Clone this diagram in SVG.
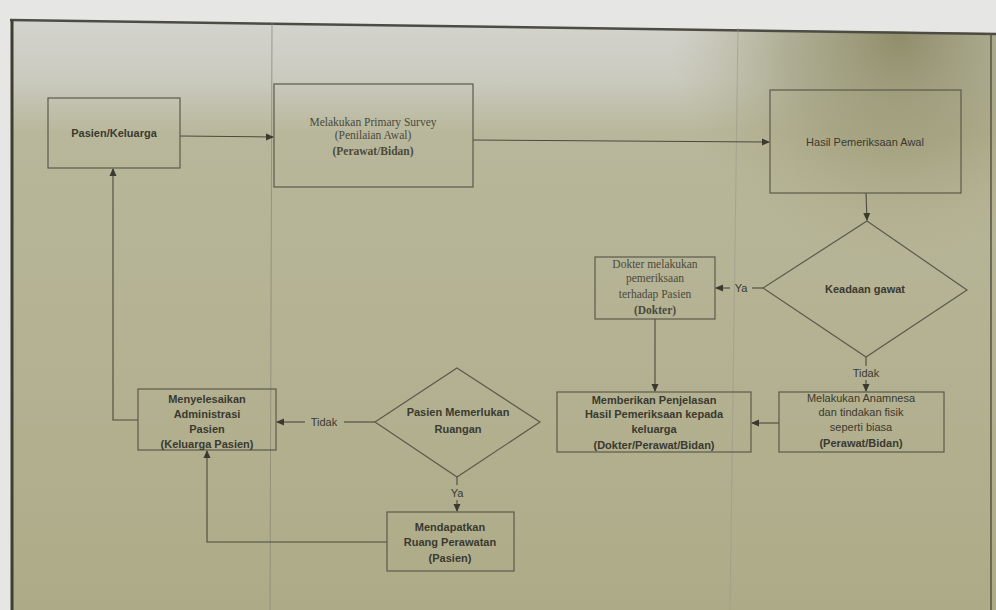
<svg xmlns="http://www.w3.org/2000/svg" width="996" height="610" viewBox="0 0 996 610">
<defs>
<linearGradient id="bg" x1="0" y1="0" x2="0" y2="1">
<stop offset="0" stop-color="#d4d4cf"/>
<stop offset="0.1" stop-color="#cacabf"/>
<stop offset="0.19" stop-color="#b9b79b"/>
<stop offset="1" stop-color="#adab87"/>
</linearGradient>
<radialGradient id="shadow" cx="900" cy="35" r="230" gradientUnits="userSpaceOnUse">
<stop offset="0" stop-color="#8c8a64" stop-opacity="0.95"/>
<stop offset="0.5" stop-color="#9a9872" stop-opacity="0.6"/>
<stop offset="1" stop-color="#aeac88" stop-opacity="0"/>
</radialGradient>
<marker id="arr" markerWidth="8" markerHeight="8" refX="7" refY="4" orient="auto" markerUnits="userSpaceOnUse">
<path d="M0,0.5 L8,4 L0,7.5 z" fill="#3a3a30"/>
</marker>
<style>
.box{fill:none;stroke:#5a5a4c;stroke-width:1.2}
.ln{fill:none;stroke:#4a4a3e;stroke-width:1.1}
.t{font-family:"Liberation Sans",Arial,sans-serif;font-size:11px;fill:#3a3a30;text-anchor:middle}
.b{font-weight:bold}
.s{font-family:"Liberation Serif","Times New Roman",serif;font-size:11.5px;fill:#4a4a3c;text-anchor:middle}
</style>
</defs>
<rect x="0" y="0" width="996" height="610" fill="#e6e6e4"/>
<polygon points="11,20 996,33 996,610 11,610" fill="url(#bg)"/>
<polygon points="11,20 996,33 996,610 11,610" fill="url(#shadow)"/>
<line x1="10" y1="20" x2="996" y2="34" stroke="#4c4c44" stroke-width="2.5"/>
<line x1="12" y1="20" x2="12" y2="610" stroke="#3e3e30" stroke-width="3"/>
<line x1="991" y1="33" x2="991" y2="610" stroke="#55553f" stroke-width="1.5"/>
<line x1="272" y1="22" x2="270" y2="610" stroke="#8a8a78" stroke-width="0.8"/>
<line x1="738" y1="28" x2="730" y2="610" stroke="#98988a" stroke-width="0.6"/>

<g id="connectors">
<line class="ln" x1="180" y1="136" x2="273" y2="137" marker-end="url(#arr)"/>
<line class="ln" x1="473" y1="140" x2="769" y2="142" marker-end="url(#arr)"/>
<line class="ln" x1="866" y1="193" x2="867" y2="220" marker-end="url(#arr)"/>
<line class="ln" x1="763" y1="288" x2="752" y2="288"/>
<line class="ln" x1="730" y1="288" x2="716" y2="288" marker-end="url(#arr)"/>
<text class="t" x="741" y="292">Ya</text>
<line class="ln" x1="655" y1="319" x2="655" y2="391" marker-end="url(#arr)"/>
<line class="ln" x1="866" y1="357" x2="866" y2="366"/>
<text class="t" x="866" y="377">Tidak</text>
<line class="ln" x1="866" y1="380" x2="866" y2="391" marker-end="url(#arr)"/>
<line class="ln" x1="779" y1="423" x2="752" y2="423" marker-end="url(#arr)"/>
<line class="ln" x1="375" y1="422" x2="344" y2="422"/>
<text class="t" x="324" y="426">Tidak</text>
<line class="ln" x1="305" y1="422" x2="277" y2="422" marker-end="url(#arr)"/>
<line class="ln" x1="457" y1="477" x2="457" y2="485"/>
<text class="t" x="457" y="497">Ya</text>
<line class="ln" x1="457" y1="500" x2="457" y2="511" marker-end="url(#arr)"/>
<polyline class="ln" points="138,420 113,420 113,169" marker-end="url(#arr)"/>
<polyline class="ln" points="387,542 207,542 207,451" marker-end="url(#arr)"/>
</g>

<g id="pasien-keluarga">
<rect class="box" x="48" y="98" width="132" height="70"/>
<text class="t b" x="114" y="137">Pasien/Keluarga</text>
</g>

<g id="primary-survey">
<rect class="box" x="274" y="84" width="199" height="103"/>
<text class="s" x="373" y="126">Melakukan Primary Survey</text>
<text class="s" x="373" y="139">(Penilaian Awal)</text>
<text class="s" x="373" y="155" font-weight="bold">(Perawat/Bidan)</text>
</g>

<g id="hasil-pemeriksaan">
<rect class="box" x="770" y="90" width="191" height="103"/>
<text class="t" x="865" y="146">Hasil Pemeriksaan Awal</text>
</g>

<g id="keadaan-gawat">
<polygon class="box" points="867,221 967,290 866,357 763,288"/>
<text class="t b" x="865" y="293">Keadaan gawat</text>
</g>

<g id="dokter">
<rect class="box" x="595" y="257" width="120" height="62"/>
<text class="s" x="655" y="268">Dokter melakukan</text>
<text class="s" x="655" y="282">pemeriksaan</text>
<text class="s" x="655" y="298">terhadap Pasien</text>
<text class="s" x="655" y="314" font-weight="bold">(Dokter)</text>
</g>

<g id="memberikan-penjelasan">
<rect class="box" x="557" y="392" width="194" height="60"/>
<text class="t b" x="654" y="404">Memberikan Penjelasan</text>
<text class="t b" x="654" y="418">Hasil Pemeriksaan kepada</text>
<text class="t b" x="654" y="433">keluarga</text>
<text class="t b" x="654" y="449">(Dokter/Perawat/Bidan)</text>
</g>

<g id="anamnesa">
<rect class="box" x="779" y="392" width="165" height="60"/>
<text class="t" x="861" y="402">Melakukan Anamnesa</text>
<text class="t" x="861" y="416">dan tindakan fisik</text>
<text class="t" x="861" y="431">seperti biasa</text>
<text class="t b" x="861" y="447">(Perawat/Bidan)</text>
</g>

<g id="menyelesaikan-administrasi">
<rect class="box" x="138" y="389" width="138" height="61"/>
<text class="t b" x="207" y="403">Menyelesaikan</text>
<text class="t b" x="207" y="418">Administrasi</text>
<text class="t b" x="207" y="433">Pasien</text>
<text class="t b" x="207" y="448">(Keluarga Pasien)</text>
</g>

<g id="pasien-memerlukan-ruangan">
<polygon class="box" points="457,368 540,422 457,477 375,422"/>
<text class="t b" x="458" y="416">Pasien Memerlukan</text>
<text class="t b" x="458" y="433">Ruangan</text>
</g>

<g id="mendapatkan-ruang">
<rect class="box" x="387" y="512" width="127" height="59"/>
<text class="t b" x="450" y="531">Mendapatkan</text>
<text class="t b" x="450" y="546">Ruang Perawatan</text>
<text class="t b" x="450" y="562">(Pasien)</text>
</g>
</svg>
